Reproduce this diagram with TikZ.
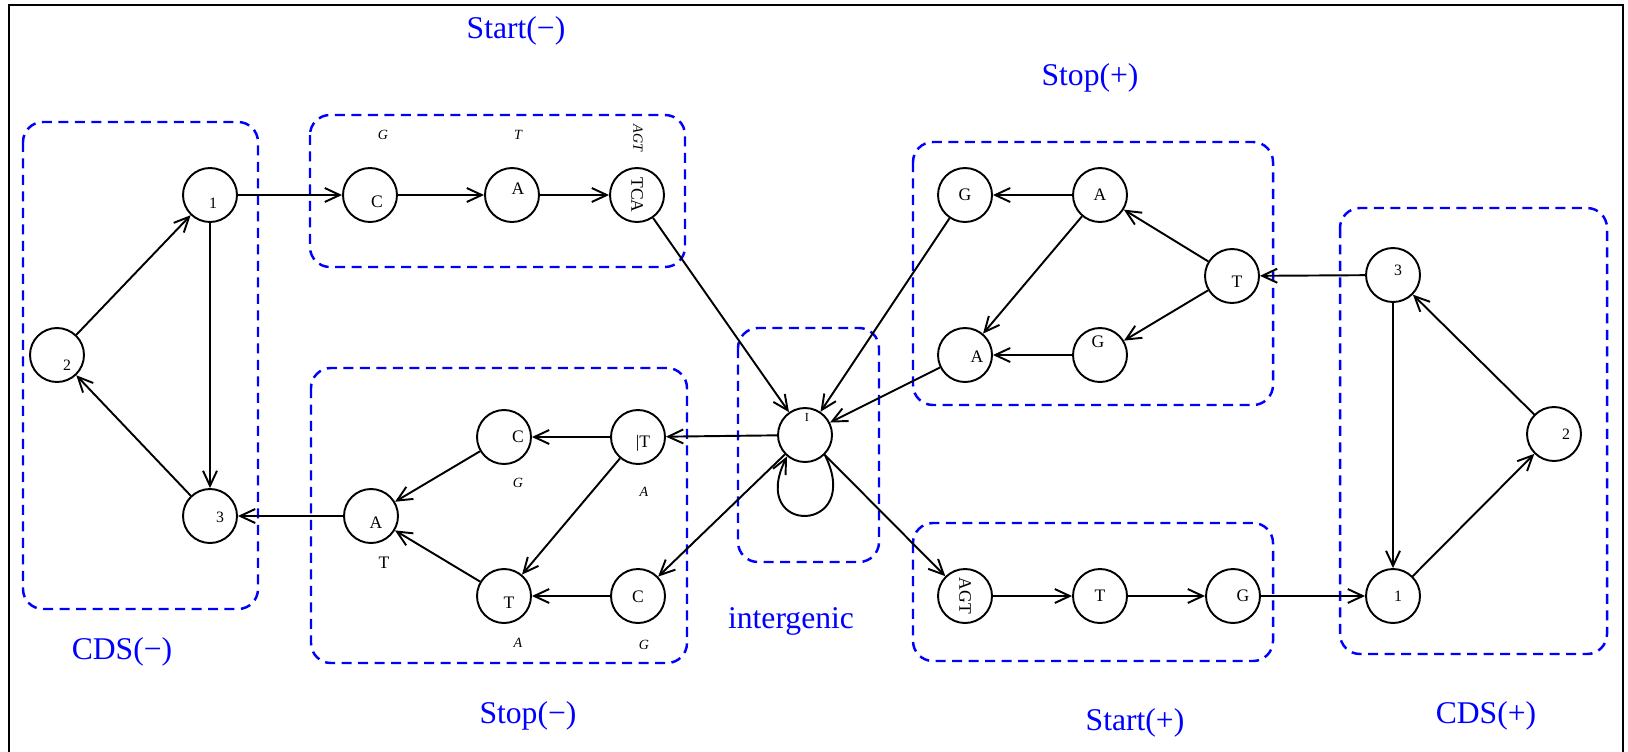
\documentclass[tikz,border=0pt]{standalone}
\usepackage{fontspec}
\setmainfont{Liberation Serif}
\usetikzlibrary{arrows.meta}
\begin{document}
\begin{tikzpicture}[x=0.02cm,y=-0.02cm,
  st/.style={circle,draw,line width=1.1pt,minimum size=1.08cm,inner sep=0pt,font=\fontsize{10}{10}\selectfont},
  arr/.style={line width=1.1pt,-{Straight Barb[length=3mm,width=2.8mm,line width=1.1pt]}},
  grp/.style={draw=blue,line width=1.4pt,dash pattern=on 0.2cm off 0.13cm,rounded corners=0.4cm},
  ttl/.style={text=blue,font=\fontsize{18}{18}\selectfont},
  sm/.style={font=\itshape\fontsize{8}{8}\selectfont,inner sep=0pt},
  dig/.style={font=\fontsize{9}{9}\selectfont},
  every label/.style={font=\fontsize{10}{10}\selectfont,inner sep=0pt}
]
\useasboundingbox (0,0) rectangle (1628,751);
\draw[line width=1.2pt] (9,800) -- (9,5) -- (1623,5) -- (1623,800);

% group boxes
\draw[grp] (23,122) rectangle (258,609);
\draw[grp] (310,115) rectangle (685,267);
\draw[grp] (311,368) rectangle (687,663);
\draw[grp] (738,328) rectangle (879,562);
\draw[grp] (913,142) rectangle (1273,405);
\draw[grp] (913,523) rectangle (1273,661);
\draw[grp] (1340,208) rectangle (1607,654);

% titles
\node[ttl] (tStartm) at (516,31) {Start(−)};
\node[ttl] (tStopp) at (1090,78) {Stop(+)};
\node[ttl] (tInter) at (791,621) {intergenic};
\node[ttl] (tCDSm) at (122,652) {CDS(−)};
\node[ttl] (tStopm) at (528,716) {Stop(−)};
\node[ttl] (tStartp) at (1135,723) {Start(+)};
\node[ttl] (tCDSp) at (1486,716) {CDS(+)};

% CDS(-)
\node[st,label={[dig,shift={(3,8)}]center:1}] (n1) at (210,195) {};
\node[st,label={[dig,shift={(10,10)}]center:2}] (n2) at (57,355) {};
\node[st,label={[dig,shift={(10,1)}]center:3}] (n3) at (210,516) {};

% Start(-)
\node[st,label={[shift={(7,7)}]center:C}] (sC) at (370,195) {};
\node[st,label={[shift={(6,-6)}]center:A}] (sA) at (512,195) {};
\node[st] (sTCA) at (637,195) {\rotatebox{-90}{TCA}};
\node[sm] (lG1) at (383,135) {G};
\node[sm] (lT1) at (518,135) {T};
\node[sm,rotate=-90] (lAGT1) at (638,138) {AGT};

% Stop(-)
\node[st,label={[shift={(5,6)}]center:|T}] (tT1) at (638,437) {};
\node[st,label={[shift={(14,0)}]center:C}] (tC1) at (504,437) {};
\node[st,label={[shift={(5,7)}]center:A}] (tA) at (371,516) {};
\node[st,label={[shift={(5,7)}]center:T}] (tT2) at (504,596) {};
\node[st,label={[shift={(0,1)}]center:C}] (tC2) at (638,596) {};
\node[sm] (lG2) at (518,483) {G};
\node[sm] (lA2) at (644,492) {A};
\node[inner sep=0pt,font=\fontsize{10}{10}\selectfont] (lT2) at (384,563) {T};
\node[sm] (lA3) at (518,643) {A};
\node[sm] (lG3) at (644,645) {G};

% intergenic
\node[st,label={[font=\fontsize{7}{7}\selectfont,shift={(2,-18)}]center:I}] (I) at (805,435) {};

% Stop(+)
\node[st] (pG1) at (965,195) {G};
\node[st] (pA1) at (1100,195) {A};
\node[st,label={[shift={(5,6)}]center:T}] (pT) at (1232,276) {};
\node[st,label={[shift={(12,2)}]center:A}] (pA2) at (965,355) {};
\node[st,label={[shift={(-2,-13)}]center:G}] (pG2) at (1100,355) {};

% Start(+)
\node[st] (qAGT) at (965,596) {\rotatebox{-90}{AGT}};
\node[st] (qT) at (1100,596) {T};
\node[st,label={[shift={(10,0)}]center:G}] (qG) at (1233,596) {};

% CDS(+)
\node[st,label={[dig,shift={(5,-5)}]center:3}] (c3) at (1393,275) {};
\node[st,label={[dig,shift={(12,0)}]center:2}] (c2) at (1554,434) {};
\node[st,label={[dig,shift={(5,0)}]center:1}] (c1) at (1393,596) {};

% edges CDS(-)
\draw[arr] (n1) -- (n3);
\draw[arr] (n3) -- (n2);
\draw[arr] (n2) -- (n1);
\draw[arr] (n1) -- (sC);
% Start(-)
\draw[arr] (sC) -- (sA);
\draw[arr] (sA) -- (sTCA);
\draw[arr] (sTCA) -- (I);
% Stop(-)
\draw[arr] (I) -- (tT1);
\draw[arr] (I) -- (tC2);
\draw[arr] (tT1) -- (tC1);
\draw[arr] (tT1) -- (tT2);
\draw[arr] (tC1) -- (tA);
\draw[arr] (tT2) -- (tA);
\draw[arr] (tC2) -- (tT2);
\draw[arr] (tA) -- (n3);
% intergenic loop
\draw[arr] (I.-45) .. controls +(40,80) and +(-40,80) .. (I.-130);
% Stop(+)
\draw[arr] (c3) -- (pT);
\draw[arr] (pT) -- (pA1);
\draw[arr] (pT) -- (pG2);
\draw[arr] (pA1) -- (pG1);
\draw[arr] (pA1) -- (pA2);
\draw[arr] (pG2) -- (pA2);
\draw[arr] (pG1) -- (I);
\draw[arr] (pA2) -- (I);
% Start(+)
\draw[arr] (I) -- (qAGT);
\draw[arr] (qAGT) -- (qT);
\draw[arr] (qT) -- (qG);
\draw[arr] (qG) -- (c1);
% CDS(+)
\draw[arr] (c3) -- (c1);
\draw[arr] (c1) -- (c2);
\draw[arr] (c2) -- (c3);
\end{tikzpicture}
\end{document}
